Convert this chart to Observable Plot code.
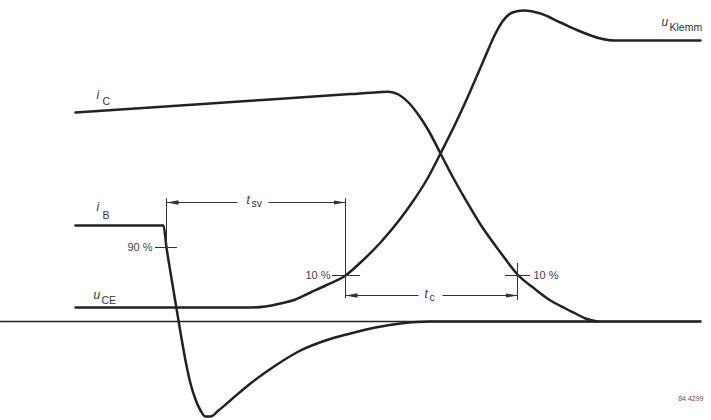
<!DOCTYPE html>
<html>
<head>
<meta charset="utf-8">
<script src="https://cdn.jsdelivr.net/npm/d3@7"></script>
<script src="https://cdn.jsdelivr.net/npm/@observablehq/plot@0.6"></script>
<style>
  html, body { margin: 0; padding: 0; background: #fff; }
</style>
</head>
<body>
<div id="chart"></div>
<script>
// Signals: x = time (arbitrary units), y = amplitude relative to zero line
const iC = [[75,209],[150,214],[250,220.7],[350,227.4],[378,229.3],[388,229.8],[398,227],[408,219],[417,208],[428,191],[440,168],[452,145],[465,122],[480,97],[500,69],[517,47],[535,32],[550,21],[565,13],[575,8],[585,3],[597,0]];
const uCE = [[75,14],[250,14],[265,15],[280,18],[295,22],[310,29],[325,36],[345,46],[360,59],[380,79],[400,103],[413,121],[427,143],[440,168],[455,198],[467,224],[477,247],[486,268],[494,286],[502,300],[512,309],[523,311],[540,308],[560,299],[580,290],[600,283],[613,281],[700,281]];
const iB = [[75,96],[163,96],[166,74],[170,49],[175,19],[180,-11],[185,-39],[190,-62],[195,-78],[200,-89],[205,-95],[210,-95],[218,-89],[232,-77],[250,-62],[275,-44],[300,-29],[325,-19],[350,-12],[375,-6],[400,-2],[430,0],[700,0]];
const zeroLine = [[0,0],[700,0]];

// Dimensioning
const extLines = [{x:166,y1:123,y2:74},{x:345,y1:123,y2:23},{x:517,y1:58,y2:21}];
const dimArrows = [{x1:237,x2:166,y:119},{x1:268,x2:345,y:119},{x1:418,x2:345,y:26},{x1:442,x2:517,y:26}];
const pctTicks = [{x1:155,x2:177,y:74},{x1:332,x2:360,y:46},{x1:505,x2:530,y:46}];
const pctLabelsLeft = [{x:152,y:74,text:"90 %"},{x:330,y:46,text:"10 %"}];
const pctLabelsRight = [{x:533,y:46,text:"10 %"}];

// Symbol labels: italic letter + subscript
const symMain = [{x:96,y:223,t:"i"},{x:96,y:111,t:"i"},{x:93,y:23,t:"u"},{x:661,y:296,t:"u"},{x:246,y:118,t:"t"},{x:424,y:24,t:"t"}];
const symSub = [{x:102,y:217,t:"C"},{x:102,y:103,t:"B"},{x:101,y:18,t:"CE"},{x:669,y:291,t:"Klemm"},{x:251,y:115,t:"sv"},{x:429,y:21,t:"c"}];
const figNumber = [{x:703,y:-79,t:"84 4299"}];

const ink = "#222";

function filledArrow(color, context) {
  const doc = (context && context.document) || document;
  const ns = "http://www.w3.org/2000/svg";
  const m = doc.createElementNS(ns, "marker");
  m.setAttribute("viewBox", "-12 -3 13 6");
  m.setAttribute("markerWidth", "13");
  m.setAttribute("markerHeight", "6");
  m.setAttribute("markerUnits", "userSpaceOnUse");
  m.setAttribute("orient", "auto");
  m.setAttribute("refX", "0");
  m.setAttribute("refY", "0");
  const p = doc.createElementNS(ns, "path");
  p.setAttribute("d", "M-12,-2.2L0,0L-12,2.2Z");
  p.setAttribute("fill", color);
  p.setAttribute("stroke", "none");
  m.appendChild(p);
  return m;
}

const chart = Plot.plot({
  width: 711,
  height: 420,
  margin: 0,
  x: {domain: [0, 711], axis: null},
  y: {domain: [-99, 321], axis: null},
  style: {background: "#fff", fontFamily: "'Liberation Sans', Arial, Helvetica, sans-serif"},
  marks: [
    Plot.line(zeroLine, {x: d => d[0], y: d => d[1], stroke: ink, strokeWidth: 1.3}),
    Plot.line(iB, {x: d => d[0], y: d => d[1], stroke: ink, strokeWidth: 2.5, curve: "monotone-x"}),
    Plot.line(iC, {x: d => d[0], y: d => d[1], stroke: ink, strokeWidth: 2.5, curve: "monotone-x"}),
    Plot.line(uCE, {x: d => d[0], y: d => d[1], stroke: ink, strokeWidth: 2.5, curve: "monotone-x"}),
    Plot.ruleX(extLines, {x: "x", y1: "y1", y2: "y2", stroke: "#333", strokeWidth: 1}),
    Plot.ruleY(pctTicks, {y: "y", x1: "x1", x2: "x2", stroke: "#333", strokeWidth: 1}),
    Plot.link(dimArrows, {x1: "x1", x2: "x2", y1: "y", y2: "y", stroke: "#333", strokeWidth: 1, markerEnd: filledArrow}),
    Plot.text(pctLabelsLeft, {x: "x", y: "y", text: "text", textAnchor: "end", fontSize: 11, fill: "#444", letterSpacing: "0.5px"}),
    Plot.text(pctLabelsRight, {x: "x", y: "y", text: "text", textAnchor: "start", fontSize: 11, fill: "#444", letterSpacing: "0.5px"}),
    Plot.text(symMain, {x: "x", y: "y", text: "t", textAnchor: "start", lineAnchor: "bottom", fontSize: 12, fontStyle: "italic", fill: "#333"}),
    Plot.text(symSub, {x: "x", y: "y", text: "t", textAnchor: "start", lineAnchor: "bottom", fontSize: 10.5, fill: "#333"}),
    Plot.text(figNumber, {x: "x", y: "y", text: "t", textAnchor: "end", lineAnchor: "bottom", fontSize: 7, fill: "#555", letterSpacing: "1px"})
  ]
});
document.getElementById("chart").appendChild(chart);
</script>
</body>
</html>
